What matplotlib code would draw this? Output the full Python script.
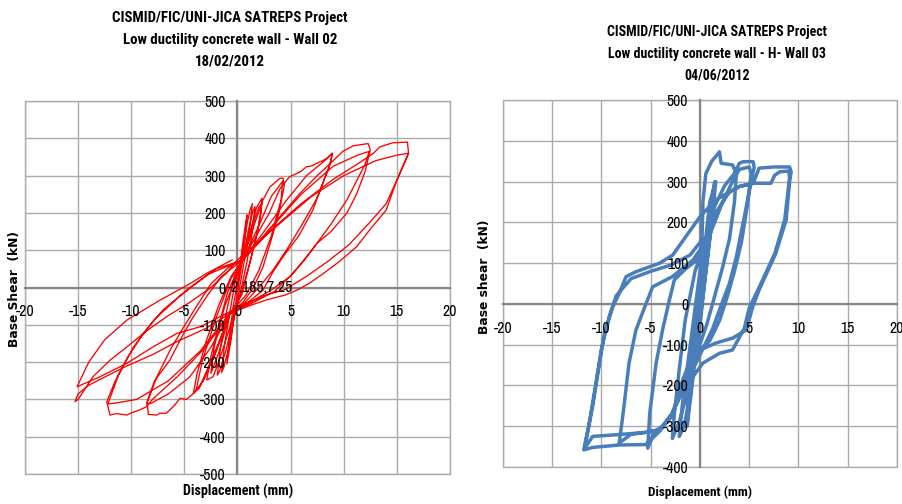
import numpy as np
import matplotlib
matplotlib.use("Agg")
import matplotlib.pyplot as plt
from matplotlib.patches import Rectangle

plt.rcParams["axes.unicode_minus"] = False
NARROW = ["Archivo Narrow", "DejaVu Sans"]
COND_BOLD = ["Roboto Condensed", "DejaVu Sans"]

# ---- Wall 02: recorded (displacement mm, base shear kN) path ----
wall02_points = [
    (0, 0), (0.25, 60), (0.5, 120), (0.75, 170), (0.9, 195), (0.7, 130), (0.4, 60), (0.05, 0),
    (-0.3, -70), (-0.6, -140), (-0.9, -190), (-1.0, -205), (-0.75, -130), (-0.4, -50), (0.1, 30),
    (0.5, 100), (0.9, 170), (1.2, 210), (1.4, 225), (1.15, 160), (0.7, 80), (0.2, 0),
    (-0.3, -80), (-0.8, -160), (-1.3, -215), (-1.5, -228), (-1.25, -160), (-0.8, -80), (-0.2, 20), (0.5, 74),
    (1.0, 150), (1.45, 205), (1.65, 217), (1.4, 150), (0.9, 70), (0.3, -10),
    (-0.4, -90), (-1.1, -170), (-1.7, -225), (-1.9, -235), (-1.6, -160), (-1.0, -60), (-0.3, 30), (0.5, 74),
    # +-2.5 mm
    (1.2, 150), (1.8, 215), (2.3, 239), (2.2, 195), (1.7, 130), (1.1, 60), (0.5, 0), (-0.3, -69),
    (-1.2, -150), (-1.9, -210), (-2.3, -239), (-2.9, -248), (-2.5, -185), (-1.8, -105), (-0.9, -10), (0.5, 74),
    (1.4, 165), (2.0, 215), (2.3, 225), (1.9, 150), (1.2, 70), (0.4, -20), (-0.7, -69),
    (-1.7, -170), (-2.5, -230), (-2.2, -160), (-1.2, -50), (0.5, 74),
    # +-4 mm
    (1.6, 170), (2.4, 235), (3.06, 270), (4.0, 293), (4.3, 293), (4.4, 272), (3.9, 200), (3.2, 130),
    (2.4, 55), (1.5, 0), (0.5, -40), (-0.7, -69), (-1.8, -150), (-2.9, -225), (-3.6, -270), (-4.15, -284),
    (-3.8, -230), (-2.9, -140), (-1.8, -50), (-0.6, 30), (0.5, 74),
    (2.0, 165), (3.2, 245), (4.25, 285), (4.1, 235), (3.2, 140), (2.0, 45), (0.8, -20), (-0.7, -69),
    (-2.2, -185), (-3.5, -262), (-3.9, -275), (-3.3, -195), (-2.0, -80), (-0.6, 25), (0.5, 74),
    # +-8.5 mm
    (1.8, 140), (3.0, 200), (4.0, 265), (4.9, 297), (5.6, 306), (6.0, 312), (6.5, 324), (7.0, 326),
    (7.45, 333), (8.0, 340), (8.4, 346), (8.9, 360), (8.8, 338), (7.9, 270), (7.1, 208), (5.8, 140),
    (4.3, 83), (3.3, 40), (2.4, -7), (1.2, -35), (-0.7, -69), (-2.0, -170), (-3.2, -250), (-4.15, -284),
    (-4.8, -300), (-5.4, -297), (-6.0, -318), (-6.7, -337), (-7.3, -337), (-7.6, -342), (-8.4, -340),
    (-8.5, -306), (-7.8, -250), (-6.35, -194), (-5.2, -130), (-4.15, -78), (-2.8, -20), (-1.5, 30), (0.5, 74),
    (2.5, 150), (4.5, 230), (6.5, 300), (8.2, 340), (8.95, 360), (8.6, 320), (7.4, 235), (6.0, 165),
    (4.6, 100), (3.3, 45), (2.0, 0), (0.7, -40), (-0.7, -69), (-2.5, -160), (-4.5, -240), (-6.5, -285),
    (-8.1, -310), (-8.55, -312), (-7.6, -240), (-6.2, -160), (-4.4, -75), (-2.5, 10), (-0.8, 55), (0.5, 74),
    # +-12 mm
    (2.2, 130), (4.0, 190), (5.8, 250), (7.5, 300), (8.9, 337), (9.9, 365), (10.9, 380), (12.3, 386),
    (12.5, 369), (12.0, 310), (11.2, 250), (10.3, 200), (8.8, 150), (7.45, 118), (6.2, 70), (4.9, 29),
    (3.5, -10), (1.5, -40), (-0.7, -69), (-3.0, -160), (-5.7, -240), (-8.0, -300), (-8.6, -320),
    (-9.2, -328), (-10.0, -336), (-10.4, -342), (-11.4, -338), (-12.0, -342), (-12.3, -306),
    (-11.5, -250), (-10.4, -190), (-8.8, -120), (-7.0, -60), (-4.5, 0), (-2.0, 50), (0.5, 74),
    (3.0, 155), (6.0, 250), (9.0, 325), (11.3, 355), (12.4, 365), (12.0, 330), (10.3, 235), (8.8, 170),
    (7.0, 100), (5.0, 30), (3.0, -10), (0.8, -45), (-0.7, -69), (-3.5, -170), (-6.5, -250), (-9.5, -300),
    (-11.5, -310), (-12.2, -312), (-11.2, -235), (-9.8, -160), (-7.8, -85), (-5.5, -25), (-2.8, 35), (0.5, 74),
    # +-16 mm
    (3.0, 150), (6.0, 225), (9.0, 290), (11.5, 335), (12.8, 360), (13.4, 377), (14.6, 388), (16.0, 390),
    (16.1, 360), (15.0, 288), (14.0, 208), (12.6, 160), (11.2, 109), (9.6, 70), (8.1, 38), (6.8, 12),
    (5.6, -7), (4.5, -20), (2.75, -33), (1.0, -50), (-0.7, -69), (-3.0, -110), (-5.7, -145), (-8.0, -180),
    (-10.4, -210), (-12.5, -240), (-14.0, -262), (-15.0, -285), (-15.3, -306), (-15.0, -300),
    (-13.6, -239), (-12.0, -195), (-10.4, -159), (-8.5, -115), (-6.5, -75), (-4.5, -40), (-2.5, 0),
    (-1.0, 40), (0.0, 74),
    (3.5, 160), (7.0, 245), (10.0, 300), (13.0, 340), (15.0, 355), (16.1, 360), (15.2, 300), (14.0, 225),
    (12.3, 170), (10.5, 115), (8.5, 70), (6.5, 30), (4.5, -5), (2.5, -22), (-1.0, -69), (-3.5, -105),
    (-5.7, -123), (-8.0, -160), (-10.4, -203), (-13.0, -240), (-15.1, -266), (-14.0, -200),
    (-12.5, -140), (-10.4, -87), (-7.3, -34), (-4.5, 10), (-2.9, 38), (-0.5, 74),
]

# ---- Wall 03 ----
wall03_points = [
    (0, 0), (0.4, 90), (0.8, 190), (1.1, 250), (0.9, 190), (0.5, 90), (0, 0), (-0.4, -90), (-0.8, -190),
    (-1.2, -260), (-1.0, -190), (-0.5, -90), (0, 10),
    (0.6, 140), (1.1, 240), (1.5, 300), (1.3, 230), (0.8, 120), (0.2, 0), (-0.4, -110), (-1.0, -220),
    (-1.6, -300), (-2.1, -325), (-1.8, -250), (-1.2, -140), (-0.6, -30), (0, 80),
    (0.2, 150), (0.3, 250), (0.6, 320), (1.2, 350), (1.98, 373), (2.15, 345), (3.3, 341), (3.7, 320),
    (3.5, 250), (3.0, 160), (2.3, 90), (1.5, 20), (0.7, -50), (-0.3, -120), (-1.2, -210), (-2.1, -290),
    (-2.8, -330), (-2.6, -270), (-2.1, -160), (-1.5, -40), (-0.5, 80), (0.5, 150), (1.5, 240),
    (2.5, 290), (3.5, 320), (4.0, 345), (4.4, 349), (5.4, 349), (5.5, 335), (5.2, 300), (4.7, 238),
    (3.7, 116), (3.0, 51), (2.2, 0), (1.3, -60), (0.3, -110), (-0.7, -160), (-1.75, -211), (-2.8, -268),
    (-3.8, -300), (-4.6, -312), (-5.3, -354), (-5.1, -268), (-4.45, -145), (-3.8, -64), (-3.1, 10),
    (-2.6, 59), (-1.5, 85), (-0.2, 110), (1.0, 170), (2.3, 250), (3.3, 300), (4.0, 330), (5.0, 336),
    (5.2, 320), (4.8, 240), (4.2, 150), (3.5, 80), (2.8, 20), (2.0, -40), (1.0, -90), (0, -113),
    (-1.0, -150), (-2.0, -220), (-3.0, -280), (-4.1, -309), (-5.5, -315), (-7.0, -320), (-8.2, -341),
    (-7.8, -268), (-7.2, -145), (-6.5, -64), (-5.6, -7), (-4.8, 42), (-2.8, 67), (-0.7, 108), (0.5, 150),
    (1.5, 220), (3.0, 275), (4.0, 288), (5.4, 296), (6.0, 333), (7.5, 336), (9.1, 336), (9.26, 324),
    (9.1, 300), (8.75, 206), (7.7, 124), (6.0, 34), (5.36, -7), (4.7, -64), (3.3, -84), (1.6, -96),
    (0, -113), (-1.07, -145), (-1.75, -186), (-2.76, -268), (-4.1, -309), (-5.5, -315), (-8.0, -320),
    (-10.9, -325), (-11.7, -354), (-11.55, -333), (-10.9, -252), (-10.2, -145), (-9.7, -72),
    (-8.85, -7), (-8.2, 26), (-7.5, 67), (-6.5, 79), (-4.1, 100), (-2.76, 120), (0, 214), (1.6, 255),
    (4.0, 288), (5.4, 296), (7.2, 296), (7.6, 316), (8.1, 324), (9.0, 326), (9.1, 310), (8.6, 206),
    (7.6, 124), (6.0, 40), (5.0, -10), (4.5, -60), (3.3, -113), (2.0, -121), (0.3, -145), (-0.7, -178),
    (-1.75, -211), (-2.8, -268), (-4.0, -310), (-5.5, -345), (-8.2, -346), (-10.9, -352), (-11.8, -358),
    (-11.3, -300), (-10.6, -200), (-10.0, -110), (-9.2, -30), (-8.5, 20), (-7.0, 62), (-5.0, 80),
    (-3.0, 95), (-1.0, 120), (0.3, 160), (0.2, 60), (-0.3, -80), (-0.8, -200), (-1.3, -300),
    (-1.1, -200), (-0.5, -60), (0.3, 100), (1.0, 250), (1.6, 300), (1.2, 200), (0.5, 60), (-0.2, -100),
]

x_ticks = [-20, -15, -10, -5, 0, 5, 10, 15, 20]
wall02_yticks = [-500, -400, -300, -200, -100, 0, 100, 200, 300, 400, 500]
wall03_yticks = [-400, -300, -200, -100, 0, 100, 200, 300, 400, 500]

wall02_title = ["CISMID/FIC/UNI-JICA SATREPS Project", "Low ductility concrete wall - Wall 02", "18/02/2012"]
wall03_title = ["CISMID/FIC/UNI-JICA SATREPS Project", "Low ductility concrete wall - H- Wall 03", "04/06/2012"]
wall02_note = (-2.185, 7.25)


def style_axes(ax, yticks):
    ax.set_xlim(x_ticks[0], x_ticks[-1])
    ax.set_ylim(yticks[0], yticks[-1])
    ax.set_xticks(x_ticks)
    ax.set_yticks(yticks)
    # gridlines drawn by hand so tick labels can sit above the curves
    for x in x_ticks:
        ax.axvline(x, color="#ababab", lw=1.0, zorder=0.5)
    for y in yticks:
        ax.axhline(y, color="#ababab", lw=1.0, zorder=0.5)
    for s in ("top", "right"):
        ax.spines[s].set_visible(False)
    for s in ("left", "bottom"):
        ax.spines[s].set_position(("data", 0))
        ax.spines[s].set_color("#878787")
        ax.spines[s].set_linewidth(1.6)
        ax.spines[s].set_zorder(1)
    ax.add_patch(Rectangle((0, 0), 1, 1, transform=ax.transAxes, fill=False,
                           ec="#ababab", lw=1.0, clip_on=False, zorder=0.6))
    ax.tick_params(axis="x", length=0, pad=12, labelsize=11.3)
    ax.tick_params(axis="y", length=0, pad=8.5, labelsize=11.3)
    for lab in ax.get_xticklabels() + ax.get_yticklabels():
        lab.set_family(NARROW)
    ax.xaxis.set_zorder(5)
    ax.yaxis.set_zorder(5)
    ax.patch.set_visible(False)


def fit_width(txt, width_px):
    # scale the font so the text spans the given pixel width
    renderer = fig.canvas.get_renderer()
    w = txt.get_window_extent(renderer).width
    txt.set_fontsize(txt.get_fontsize() * width_px / w)
    return txt.get_fontsize()


fig = plt.figure(figsize=(9.03, 5.04), dpi=100)
ax1 = fig.add_axes([0.0277, 0.0595, 0.4706, 0.74])
ax2 = fig.add_axes([0.557, 0.0734, 0.4363, 0.728])

d02 = np.array(wall02_points)
ax1.plot(d02[:, 0], d02[:, 1], color="#ff0000", lw=0.95, zorder=3)
style_axes(ax1, wall02_yticks)
ax1.text(-0.95, wall02_note[1] - 7, f"{wall02_note[0]},{wall02_note[1]}", ha="left",
         va="center", fontsize=11.3, family=NARROW, zorder=6)

d03 = np.array(wall03_points)
ax2.plot(d03[:, 0], d03[:, 1], color="#4a7ebb", lw=2.5, zorder=3,
         solid_joinstyle="round", solid_capstyle="round")
style_axes(ax2, wall03_yticks)

# titles: first line sets the size, the other lines reuse it
title_rows = [
    (wall02_title, 230, [18, 40, 62], 235),
    (wall03_title, 717, [32, 54, 75], 220),
]
for lines, xc, ys, first_width in title_rows:
    size = None
    for line, y in zip(lines, ys):
        t = fig.text(xc / 903, 1 - y / 504, line, ha="center", va="center",
                     fontsize=size or 12, fontweight="bold", family=COND_BOLD)
        if size is None:
            size = fit_width(t, first_width)

for xc, y, w in [(238, 491, 110), (700, 492, 104)]:
    t = fig.text(xc / 903, 1 - y / 504, "Displacement (mm)", ha="center", va="center",
                 fontsize=11, fontweight="bold", family=COND_BOLD)
    fit_width(t, w)

fig.text(0.0166, 1 - 289 / 504, "Base Shear  (kN)", rotation=90, ha="center", va="center",
         fontsize=8.8, fontweight="bold")
fig.text(0.537, 1 - 277 / 504, "Base shear  (kN)", rotation=90, ha="center", va="center",
         fontsize=8.8, fontweight="bold")

fig.savefig("out.png", dpi=100)
